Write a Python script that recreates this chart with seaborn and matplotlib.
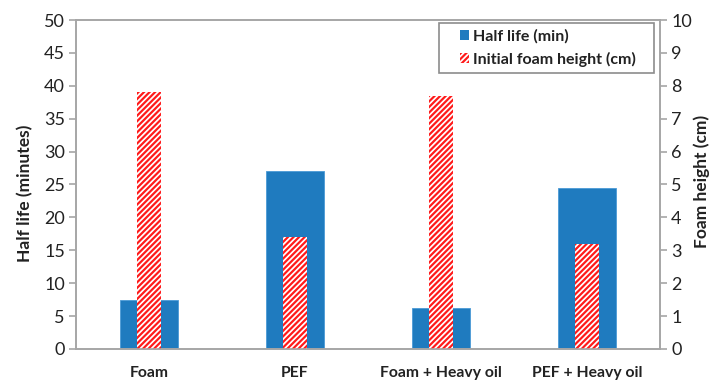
import matplotlib
matplotlib.use("Agg")
import matplotlib.pyplot as plt
import seaborn as sns
import pandas as pd
from matplotlib.patches import Patch, Rectangle
from matplotlib.legend_handler import HandlerPatch

# Data
categories = ["Foam", "PEF", "Foam + Heavy oil", "PEF + Heavy oil"]
half_life_min = [7.5, 27.0, 6.2, 24.4]
foam_height_cm = [7.8, 3.4, 7.7, 3.2]

left_ticks = [0, 5, 10, 15, 20, 25, 30, 35, 40, 45, 50]
right_ticks = [0, 1, 2, 3, 4, 5, 6, 7, 8, 9, 10]

sns.set_style("white")
plt.rcParams["font.family"] = ["Lato", "DejaVu Sans"]
plt.rcParams["hatch.linewidth"] = 1.25
plt.rcParams["hatch.color"] = "white"

df = pd.DataFrame({"cat": categories, "half": half_life_min, "height": foam_height_cm})

BLUE = "#1f7bbf"
RED = "#ff1a1a"
GRAY = "#a6a6a6"
TXT = "#222222"

fig = plt.figure(figsize=(7.13, 3.81), dpi=100)
ax = fig.add_axes([0.1066, 0.084, 0.8191, 0.8635])
ax2 = ax.twinx()

sns.barplot(data=df, x="cat", y="half", color=BLUE, width=0.4, saturation=1,
            ax=ax, errorbar=None, edgecolor="#4a9ad6", linewidth=0.6)
sns.barplot(data=df, x="cat", y="height", color=RED, width=0.17, saturation=1,
            ax=ax2, errorbar=None, linewidth=0)
for p in ax2.patches:
    p.set_hatch("//////")
    p.set_edgecolor("white")
    p.set_linewidth(0)

for a in (ax, ax2):
    a.set_xlim(-0.5, 3.5)
    for s in a.spines.values():
        s.set_color(GRAY)
        s.set_linewidth(1.2)

ax.set_ylim(0, 50)
ax2.set_ylim(0, 10)
ax.set_yticks(left_ticks)
ax2.set_yticks(right_ticks)

# category labels at bar centres, tick marks at category boundaries
ax.set_xticks([-0.5, 0.5, 1.5, 2.5, 3.5])
ax.set_xticklabels([])
ax.set_xticks(range(len(categories)), minor=True)
ax.set_xticklabels(categories, minor=True, fontweight="bold", fontsize=11.3, color=TXT)
ax.tick_params(axis="x", which="major", direction="out", length=5, color=GRAY, width=1.2)
ax.tick_params(axis="x", which="minor", length=0, pad=12)

ax.tick_params(axis="y", direction="out", length=5, color=GRAY, width=1.2,
               labelsize=13, labelcolor=TXT, pad=3)
ax2.tick_params(axis="y", direction="out", length=5, color=GRAY, width=1.2,
                labelsize=13, labelcolor=TXT, pad=3)

ax.set_xlabel("")
ax.set_ylabel("Half life (minutes)", fontweight="bold", fontsize=12.5, color=TXT)
ax2.set_ylabel("Foam height (cm)", fontweight="bold", fontsize=12.5, color=TXT)
ax.yaxis.set_label_coords(-0.0736, 0.474)
ax2.yaxis.set_label_coords(1.057, 0.51)


class SquareRight(HandlerPatch):
    """Small square swatch placed at the right end of the handle box."""

    def create_artists(self, legend, orig_handle, xdescent, ydescent,
                       width, height, fontsize, trans):
        side = 0.62 * fontsize
        x0 = -xdescent + width - side
        y0 = -ydescent + (height - side) / 2
        r = Rectangle((x0, y0), side, side,
                      facecolor=orig_handle.get_facecolor(),
                      edgecolor=orig_handle.get_edgecolor(),
                      hatch=orig_handle.get_hatch(),
                      linewidth=orig_handle.get_linewidth())
        self.update_prop(r, orig_handle, legend)
        r.set_hatch(orig_handle.get_hatch())
        r.set_transform(trans)
        return [r]


handles = [
    Patch(facecolor=BLUE, edgecolor=BLUE, linewidth=0, label="Half life (min)"),
    Patch(facecolor=RED, edgecolor="white", hatch="//////", linewidth=0,
          label="Initial foam height (cm)"),
]
leg = ax2.legend(handles=handles, loc="upper right",
                 bbox_to_anchor=(0.9897, 0.991),
                 handler_map={Patch: SquareRight()},
                 frameon=True, fancybox=False, framealpha=1,
                 prop={"weight": "bold", "size": 11.5},
                 handlelength=1.55, handleheight=0.7, handletextpad=0.25,
                 borderpad=0.38, labelspacing=0.5, borderaxespad=0)
for t in leg.get_texts():
    t.set_text(t.get_text() + "   ")
    t.set_color(TXT)
leg.get_frame().set_edgecolor("#8c8c8c")
leg.get_frame().set_linewidth(1.2)

fig.savefig("out.png", dpi=100)
